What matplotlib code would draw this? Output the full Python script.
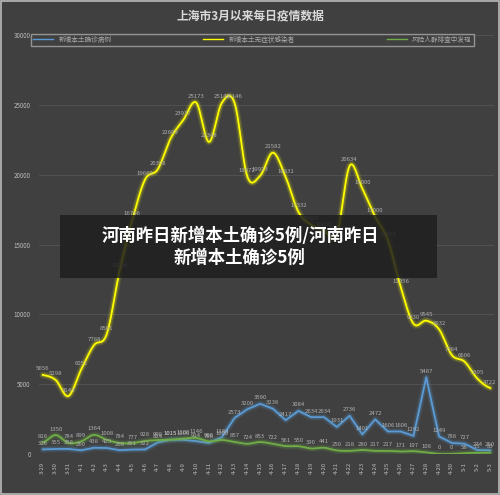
import matplotlib
matplotlib.use("Agg")
import matplotlib.pyplot as plt
import numpy as np
from matplotlib.patches import Rectangle

plt.rcParams['font.family'] = ['Noto Sans CJK SC', 'DejaVu Sans']

dates = ["3-29", "3-30", "3-31"] + [f"4-{i}" for i in range(1, 31)] + ["5-1", "5-2", "5-3"]
confirmed = [326, 355, 358, 260, 438, 425, 268, 311, 322, 824, 1015, 1006, 914, 786, 1189, 2573,
             3200, 3590, 3238, 2417, 3084, 2634, 2634, 1931, 2736, 1401, 2472, 1606, 1606, 1292,
             5487, 1249, 788, 727, 274, 260]
asymptomatic = [5656, 5298, 4144, 6051, 7788, 8581, 13086, 16766, 19660, 20398, 22609, 23937,
                25173, 22348, 25141, 25146, 19872, 19923, 21582, 19831, 17332, 16407, 16000,
                15698, 20634, 19000, 17000, 15319, 11956, 9330, 9545, 8932, 7084, 6606, 5395, 4722]
screening = [816, 1350, 784, 899, 1364, 1008, 784, 777, 928, 990, 1015, 1100, 1146, 900, 1000,
             857, 724, 853, 722, 561, 550, 390, 441, 250, 218, 280, 217, 217, 171, 197, 108,
             0, 0, 58, 73, 83]

def smooth(y, n=12):
    y = np.asarray(y, float)
    p = np.concatenate([[y[0]], y, [y[-1]]])
    xs, ys = [], []
    for i in range(len(y) - 1):
        p0, p1, p2, p3 = p[i], p[i+1], p[i+2], p[i+3]
        t = np.linspace(0, 1, n, endpoint=False)
        v = 0.5*((2*p1) + (-p0+p2)*t + (2*p0-5*p1+4*p2-p3)*t**2 + (-p0+3*p1-3*p2+p3)*t**3)
        xs.append(i + t); ys.append(v)
    xs.append([len(y)-1]); ys.append([y[-1]])
    return np.concatenate(xs), np.concatenate(ys)

bg = '#404040'
fig = plt.figure(figsize=(5, 4.95), dpi=100, facecolor=bg)
fig.patches.append(Rectangle((0.002, 0.002), 0.996, 0.996, transform=fig.transFigure,
                             fill=False, edgecolor='#bbbbbb', lw=1.2))
ax = fig.add_axes([0.078, 0.083, 0.91, 0.846], facecolor=bg)
x = np.arange(len(dates))

series = [(confirmed, '#5b9bd5', False), (asymptomatic, '#ffff00', True), (screening, '#70ad47', True)]
for y, c, sm in series:
    xs, ys = smooth(y) if sm else (x, np.asarray(y, float))
    for w, a in [(5, 0.1), (3.2, 0.2)]:
        ax.plot(xs, ys, color=c, lw=w, alpha=a, solid_capstyle='round')
    ax.plot(xs, ys, color=c, lw=1.3)
    for xi, yi in zip(x, y):
        ax.text(xi, yi + 250, str(yi), color='#b0b0b0', fontsize=4.3, ha='center', va='bottom')

ax.set_xlim(-0.3, len(dates) - 0.7)
ax.set_ylim(0, 30000)
ax.set_yticks(range(0, 30001, 5000))
ax.set_yticklabels([str(v) for v in range(0, 30001, 5000)], color='#bbbbbb', fontsize=4.5)
ax.set_xticks(x)
ax.set_xticklabels(dates, rotation=90, color='#bbbbbb', fontsize=4.3)
ax.tick_params(length=0, pad=6)
ax.grid(axis='y', color='#555555', lw=0.6)
for s in ax.spines.values():
    s.set_visible(False)

fig.text(0.5, 0.968, '上海市3月以来每日疫情数据', color='#d9d9d9', fontsize=8.5, ha='center', va='center', weight='bold')
leg = fig.legend([plt.Line2D([], [], color=c, lw=1) for _, c, _ in series],
                 ['新增本土确诊病例', '新增本土无症状感染者', '风险人群排查中发现'],
                 loc='center', bbox_to_anchor=(0.505, 0.92), ncol=3, fontsize=4.8,
                 frameon=True, facecolor=bg, edgecolor='#aaaaaa', labelcolor='#aaaaaa',
                 handlelength=3, columnspacing=9, borderpad=0.3, fancybox=False,
                 mode='expand')
leg.set_bbox_to_anchor((0.056, 0.905, 0.898, 0.03), transform=fig.transFigure)

fig.patches.append(Rectangle((0.12, 0.438), 0.754, 0.127, transform=fig.transFigure,
                             facecolor='#1e1e1e', alpha=0.85, edgecolor='none'))
fig.text(0.48, 0.502, '河南昨日新增本土确诊5例/河南昨日\n新增本土确诊5例', color='white',
         fontsize=12.5, weight='bold', ha='center', va='center', linespacing=1.25)

fig.savefig('out.png', dpi=100, facecolor=bg)
